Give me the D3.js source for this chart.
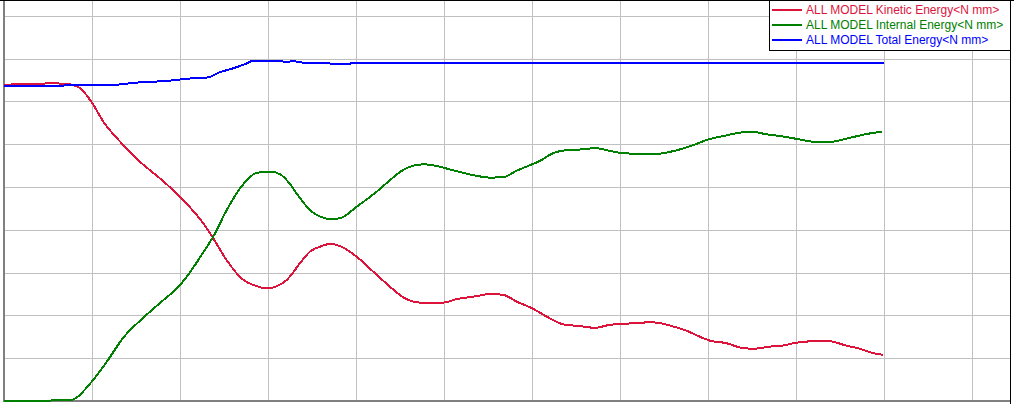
<!DOCTYPE html>
<html>
<head>
<meta charset="utf-8">
<script src="https://cdn.jsdelivr.net/npm/d3@7"></script>
<style>
  html, body { margin: 0; padding: 0; background: #fff; }
  svg { display: block; }
</style>
</head>
<body>
<svg id="chart" width="1014" height="404"></svg>
<script>
// ---- data (time in grid units, energy in N mm x 1) ----
const seriesNames = [
  "ALL MODEL Kinetic Energy<N mm>",
  "ALL MODEL Internal Energy<N mm>",
  "ALL MODEL Total Energy<N mm>"
];
const seriesColors = ["#dc143c", "#008000", "#0000ff"];

const kineticT = [0, 0.125, 0.545, 0.727, 0.784, 0.864, 1.003, 1.128, 1.337, 1.545, 1.773, 2.0, 2.265, 2.378, 2.53, 2.72, 2.864, 2.985, 3.213, 3.364, 3.477, 3.61, 3.705, 3.818, 4.008, 4.197, 4.386, 4.538, 4.727, 4.992, 5.144, 5.372, 5.523, 5.674, 5.826, 5.977, 6.205, 6.356, 6.545, 6.716, 6.886, 7.19, 7.341, 7.455, 7.606, 7.758, 7.909, 8.023, 8.212, 8.364, 8.515, 8.705, 8.894, 8.989, 9.273, 9.364, 9.58, 9.727, 9.875, 9.989];
const kineticE = [738, 740, 742, 741, 738, 731, 696, 653, 602, 559, 520, 477, 415, 380, 329, 283, 269, 263, 283, 322, 349, 362, 367, 362, 337, 302, 267, 242, 230, 230, 238, 245, 250, 248, 232, 219, 193, 179, 175, 171, 178, 182, 184, 182, 174, 164, 150, 141, 135, 125, 122, 127, 131, 136, 140, 140, 129, 122, 112, 108];

const internalT = [0, 0.75, 0.997, 1.182, 1.352, 1.58, 1.773, 2.0, 2.114, 2.261, 2.375, 2.531, 2.701, 2.872, 3.023, 3.136, 3.213, 3.364, 3.477, 3.591, 3.724, 3.818, 4.008, 4.235, 4.386, 4.538, 4.765, 4.917, 5.068, 5.22, 5.372, 5.523, 5.674, 5.826, 5.977, 6.091, 6.239, 6.394, 6.58, 6.716, 6.849, 7.0, 7.341, 7.492, 7.682, 7.833, 7.985, 8.174, 8.364, 8.497, 8.667, 8.856, 9.045, 9.273, 9.42, 9.614, 9.807, 9.977];
const internalE = [0, 2, 45, 96, 147, 194, 229, 271, 301, 346, 383, 446, 502, 533, 536, 530, 516, 474, 446, 431, 425, 427, 454, 489, 516, 540, 553, 549, 541, 533, 526, 522, 523, 538, 551, 561, 579, 586, 588, 591, 586, 580, 576, 579, 588, 598, 610, 619, 627, 629, 623, 618, 611, 604, 606, 615, 624, 629];

const totalT = [0, 1.2, 1.51, 1.86, 2.08, 2.32, 2.45, 2.6, 2.76, 2.82, 3.14, 3.21, 3.28, 3.42, 3.67, 3.82, 4.05, 10.0];
const totalE = [736, 738, 744, 748, 753, 756, 768, 777, 789, 794, 794, 792, 794, 790, 789, 787, 790, 790];

const xTicks = [1, 2, 3, 4, 5, 6, 7, 8, 9, 10, 11];
const yTicks = [100, 200, 300, 400, 500, 600, 700, 800, 900];

// ---- layout ----
const W = 1014, H = 404;
const plotLeft = 4, plotRight = 1010, plotBottom = 401, plotTop = 0;
const x = d3.scaleLinear().domain([0, (plotRight - plotLeft) / 88]).range([plotLeft, plotRight]);
const y = d3.scaleLinear().domain([0, (plotBottom - plotTop) / 0.428]).range([plotBottom, plotTop]);

const svg = d3.select("#chart");
svg.append("rect").attr("width", W).attr("height", H).attr("fill", "#fff");

// grid
const grid = svg.append("g").attr("shape-rendering", "crispEdges");
grid.selectAll("line.v").data(xTicks).join("line")
  .attr("x1", d => Math.round(x(d)) + 0.5).attr("x2", d => Math.round(x(d)) + 0.5)
  .attr("y1", 0).attr("y2", plotBottom)
  .attr("stroke", "#c0c0c0").attr("stroke-width", 1);
grid.selectAll("line.h").data(yTicks).join("line")
  .attr("y1", d => Math.round(y(d)) + 0.5).attr("y2", d => Math.round(y(d)) + 0.5)
  .attr("x1", plotLeft).attr("x2", plotRight)
  .attr("stroke", "#c0c0c0").attr("stroke-width", 1);

// axes (gray)
const axes = svg.append("g").attr("shape-rendering", "crispEdges");
axes.append("line").attr("x1", 4).attr("x2", 4).attr("y1", 0).attr("y2", 402)
  .attr("stroke", "#808080").attr("stroke-width", 2);
axes.append("line").attr("x1", 3).attr("x2", plotRight).attr("y1", 401).attr("y2", 401)
  .attr("stroke", "#808080").attr("stroke-width", 2);
// frame
axes.append("line").attr("x1", 0).attr("x2", W).attr("y1", 0.5).attr("y2", 0.5)
  .attr("stroke", "#000").attr("stroke-width", 1);
axes.append("line").attr("x1", 1010.5).attr("x2", 1010.5).attr("y1", 0).attr("y2", H)
  .attr("stroke", "#000").attr("stroke-width", 1);

// series
const series = [
  { t: kineticT, e: kineticE },
  { t: internalT, e: internalE },
  { t: totalT, e: totalE }
];
const line = d3.line().x(d => x(d[0])).y(d => y(d[1])).curve(d3.curveMonotoneX);
series.forEach((s, i) => {
  const pts = s.t.map((t, j) => [t, s.e[j]]);
  svg.append("path").datum(pts)
    .attr("d", line)
    .attr("fill", "none")
    .attr("stroke", seriesColors[i])
    .attr("stroke-width", 2)
    .attr("shape-rendering", "crispEdges");
});

// legend
const lg = svg.append("g");
lg.append("rect").attr("x", 769.5).attr("y", 0.5).attr("width", 241).attr("height", 49.5)
  .attr("fill", "#fff").attr("stroke", "#000").attr("stroke-width", 1)
  .attr("shape-rendering", "crispEdges");
seriesNames.forEach((name, i) => {
  const cy = 10 + i * 15;
  lg.append("line").attr("x1", 772).attr("x2", 802).attr("y1", cy).attr("y2", cy)
    .attr("stroke", seriesColors[i]).attr("stroke-width", 2)
    .attr("shape-rendering", "crispEdges");
  lg.append("text").attr("x", 806).attr("y", 14.3 + i * 15)
    .attr("font-family", "Liberation Sans, Arial, sans-serif")
    .attr("font-size", 12)
    .attr("fill", seriesColors[i])
    .text(name);
});
</script>
</body>
</html>
